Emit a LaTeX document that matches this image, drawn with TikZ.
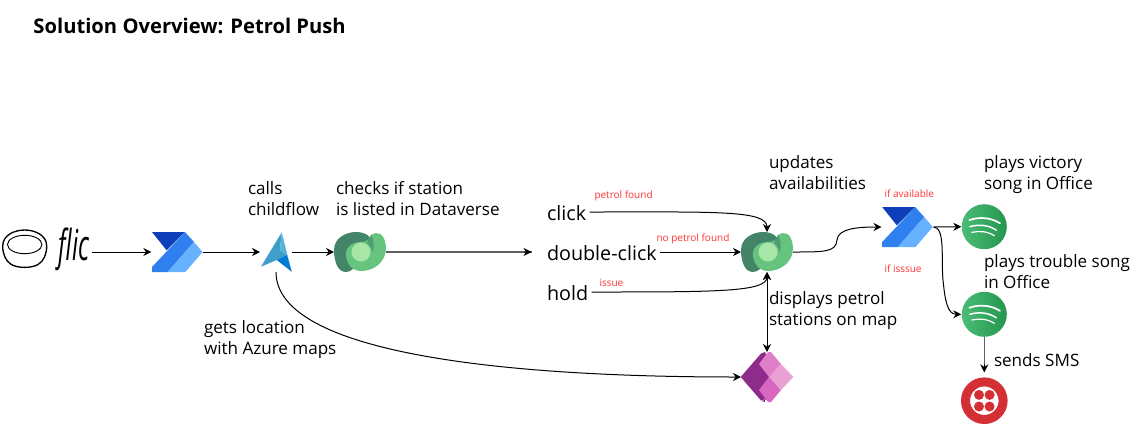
\documentclass[tikz,border=0pt]{standalone}
\usepackage{fontspec}
\setmainfont{Open Sans}
\usetikzlibrary{arrows.meta}
\definecolor{flowdark}{HTML}{0F3FB8}
\definecolor{flowmid}{HTML}{2F80EE}
\definecolor{flowlight}{HTML}{66B2FF}
\definecolor{mapmid}{HTML}{3F9FC9}
\definecolor{maplight}{HTML}{5AB4D9}
\definecolor{mapdark}{HTML}{0078D4}
\definecolor{dvdark}{HTML}{44856A}
\definecolor{dvmid}{HTML}{4F9C73}
\definecolor{dvlight}{HTML}{66C47F}
\definecolor{dvpale}{HTML}{A8E6A8}
\definecolor{spotgreen}{HTML}{2BB05C}
\definecolor{twiliored}{HTML}{D32F35}
\definecolor{appsdark}{HTML}{8E2C8C}
\definecolor{appsdeep}{HTML}{742774}
\definecolor{appspink}{HTML}{DE7FC7}
\definecolor{appspale}{HTML}{E9A0D3}
\definecolor{appsrose}{HTML}{D966BF}
\definecolor{notered}{HTML}{FF3333}
\tikzset{
  iconbox/.style={inner sep=0pt, outer sep=0pt, minimum width=39pt, minimum height=30pt},
  note/.style={anchor=west, align=left, inner sep=0pt, font=\fontsize{12.8}{15.75}\selectfont},
  trigger/.style={anchor=west, inner ysep=0pt, inner xsep=2.25pt, text height=15pt, text depth=3pt,
    font=\fontsize{14.8}{18}\selectfont},
  rednote/.style={anchor=west, inner sep=0pt, text=notered, font=\fontsize{7.5}{9}\selectfont},
  blurred/.style={gray!75!black, line width=1.1pt},
  flowicon/.pic={
    \fill[flowdark] (-25.3,-20) -- (7.7,-20) -- (-10.7,-1.7) -- cycle;
    \fill[flowmid] (7.7,-20) -- (16.7,-10) -- (-9.7,20) -- (-25.3,20) -- (-25.3,15) -- cycle;
    \fill[flowlight] (16.7,-10) -- (25.3,0) -- (8,20) -- (-9.7,20) -- cycle;
  },
  mapicon/.pic={
    \fill[mapmid] (5.7,-19.7) -- (-15,14.7) -- (0.7,8) -- (11,3) -- (4,-2) -- cycle;
    \fill[maplight] (5.7,-19.7) -- (4,-2) -- (11,3) -- (15.7,19.7) -- cycle;
    \fill[mapdark] (0.7,8) -- (11,3) -- (15.7,19.7) -- cycle;
  },
  dvicon/.pic={
    \fill[dvdark] (-26,-2) .. controls (-26,-14) and (-14,-20) .. (-4,-20)
      .. controls (6,-20) and (12,-15) .. (13,-8) -- (-4,8) -- (-7,17)
      .. controls (-9,19) and (-12,20) .. (-14,20)
      .. controls (-22,20) and (-26,10) .. (-26,-2) -- cycle;
    \fill[dvlight] (11,-17) .. controls (17,-21) and (25,-20) .. (26,-4)
      .. controls (26,10) and (14,19) .. (1,19)
      .. controls (-9,19) and (-14,10) .. (-14,2)
      .. controls (-14,-6) and (-7,-10) .. (0,-10)
      .. controls (6,-10) and (10,-12) .. (11,-17) -- cycle;
    \fill[dvmid] (11,-17) .. controls (9,-14) and (8,-11) .. (7,-9)
      .. controls (10,-7) and (12,-3) .. (13,1) .. controls (14,-6) and (14,-12) .. (11,-17) -- cycle;
    \fill[dvpale] (1,0) circle (9.5);
  },
  spoticon/.pic={
    \shade[left color=spotgreen!85!white, right color=spotgreen!85!black] (0,0) circle (22.5);
    \draw[white, line width=1.3pt, line cap=round] (-15,-6.5) .. controls (-6,-10) and (6,-9.5) .. (15.7,-3.5);
    \draw[white, line width=1.1pt, line cap=round] (-14.5,0) .. controls (-6,-2.5) and (4,-2) .. (12,3.5);
    \draw[white, line width=0.9pt, line cap=round] (-12.5,5.7) .. controls (-5,4) and (3,4.5) .. (10,9);
  },
  twilioicon/.pic={
    \draw[twiliored, line width=6.75pt, fill=white] (0,0) circle (18.8);
    \fill[twiliored] (-5.3,-5.8) circle (5) (5.3,-5.8) circle (5)
      (-5.3,5.8) circle (5) (5.3,5.8) circle (5);
  },
  appsicon/.pic={
    \fill[appsdeep] (-5,-24) -- (6,-20) -- (6,20) -- (-5,24) -- (-2,25) -- cycle;
    \fill[appsdark] (-26.3,0) -- (-6,-23.5) -- (-2,-25) -- (6,-5) -- (6,8) -- (-3,23) -- (-6,23.5) -- cycle;
    \fill[appsrose] (2,0) -- (-8,13) -- (1,25) -- (4,25) -- (14,13) -- cycle;
    \fill[appspink] (-8,-13) -- (1,-25) -- (4,-25) -- (14,-13) -- (2,0) -- cycle;
    \fill[appspale] (14,-13) -- (26.3,0) -- (14,13) -- (2,0) -- cycle;
  },
  buttonicon/.pic={
    \draw[line width=1pt, fill=white] (-22,-3) .. controls (-22,-14) and (-10,-19) .. (0,-19)
      .. controls (10,-19) and (22,-14) .. (22,-3)
      .. controls (22,5) and (19,12) .. (14,15)
      .. controls (8,19.5) and (-8,19.5) .. (-14,15)
      .. controls (-19,12) and (-22,5) .. (-22,-3) -- cycle;
    \draw[line width=0.7pt] (0,-4.5) ellipse (17.2 and 9.2);
  },
}
\begin{document}
\begin{tikzpicture}[x=0.75pt, y=-0.75pt, >={Stealth[length=6pt,width=6pt]}, line width=0.75pt]
  \useasboundingbox[fill=white] (0,0) rectangle (1133,430);

  \node[anchor=west, inner sep=0pt, font=\fontsize{15.15}{18}\selectfont\bfseries] (title) at (33,26) {Solution Overview: Petrol Push};

  \node[iconbox, minimum width=69pt] (flic) at (46,252) {};
  \pic at (24.7,249) {buttonicon};
  \node[inner sep=0pt, xscale=0.9, yscale=1.6, font=\fontsize{20}{20}\selectfont\itshape\rmfamily] (flicname) at (74,249) {flic};

  \node[iconbox] (flowa) at (177.3,252) {};
  \pic at (flowa) {flowicon};
  \node[iconbox, minimum width=24pt] (mapa) at (276,252) {};
  \pic at (mapa) {mapicon};
  \node[iconbox] (dva) at (360,252) {};
  \pic at (dva) {dvicon};
  \node[iconbox] (dvb) at (767,252) {};
  \pic at (dvb) {dvicon};
  \node[iconbox] (flowb) at (907.5,227) {};
  \pic at (flowb) {flowicon};
  \node[iconbox, minimum width=34.5pt, minimum height=34.5pt] (spota) at (984.3,226.7) {};
  \pic at (spota) {spoticon};
  \node[iconbox, minimum width=34.5pt, minimum height=34.5pt] (spotb) at (984.3,314.3) {};
  \pic at (spotb) {spoticon};
  \node[iconbox, minimum width=34.5pt, minimum height=34.5pt] (twilio) at (984.3,400.7) {};
  \pic at (twilio) {twilioicon};
  \node[iconbox, minimum height=37.5pt] (apps) at (767,377) {};
  \pic at (apps) {appsicon};

  \node[trigger] (click) at (543.5,212) {click};
  \node[trigger] (dclick) at (543.5,252) {double-click};
  \node[trigger] (hold) at (543.5,292) {hold};

  \node[note] (callsnote) at (247.5,198.5) {calls\\childflow};
  \node[note] (checksnote) at (335.5,198.5) {checks if station\\is listed in Dataverse};
  \node[note] (updatesnote) at (768.5,172.5) {updates\\availabilities};
  \node[note] (victorynote) at (983.5,174.5) {plays victory\\song in Office};
  \node[note] (troublenote) at (983.5,271.5) {plays trouble song\\in Office};
  \node[note] (displaysnote) at (768.5,310.5) {displays petrol\\stations on map};
  \node[note] (locationnote) at (203.5,339.5) {gets location\\with Azure maps};
  \node[note] (smsnote) at (993.5,360) {sends SMS};

  \node[rednote] (foundnote) at (594,196) {petrol found};
  \node[rednote] (nofoundnote) at (656,239) {no petrol found};
  \node[rednote] (issuenote) at (599,283) {issue};
  \node[rednote] (availnote) at (884,194) {if available};
  \node[rednote] (isssuenote) at (884,269) {if isssue};

  \draw[->] (flic) -- (flowa);
  \draw[->] (flowa) -- (mapa);
  \draw[->] (mapa) -- (dva);
  \draw[blurred] (dva) -- ([xshift=-9pt]dclick.west) coordinate (dcin);
  \draw[->] ([xshift=-6pt]dcin) -- (dcin);
  \draw[->] (click.east) .. controls +(125,0) and +(0,-22) .. (dvb.north);
  \draw[->] (dclick.east) -- (dvb.west);
  \draw[->] (hold.east) .. controls +(125,0) and +(0,20) .. (dvb.south);
  \draw[<->] (dvb.south) -- (apps.north);
  \draw[->] (mapa.south) .. controls +(0,77) and +(-260,0) .. (apps.west);
  \draw[->] (dvb.east) .. controls +(32,0) and +(-1,12) .. (837,240)
    .. controls +(1,-11) and +(-26,0) .. (flowb.west);
  \draw[->] (flowb.east) -- (spota.west);
  \draw[->] (flowb.east) .. controls +(12,0) and +(-2,-20) .. (943,280)
    .. controls +(2,20) and +(-14,0) .. (spotb.west);
  \draw[blurred] (spotb.south) -- ([yshift=4pt]twilio.north) coordinate (twin);
  \draw[->] ([yshift=6pt]twin) -- (twin);
\end{tikzpicture}
\end{document}
